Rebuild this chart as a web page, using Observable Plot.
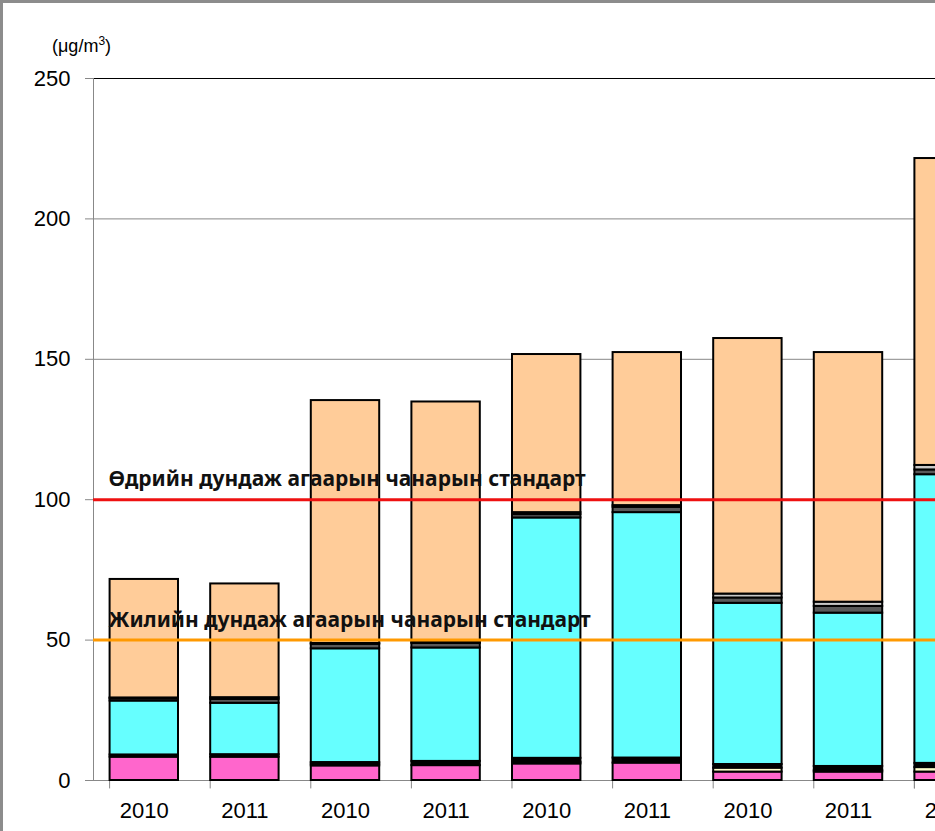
<!DOCTYPE html>
<html><head><meta charset="utf-8">
<script src="https://cdn.jsdelivr.net/npm/d3@7"></script>
<script src="https://cdn.jsdelivr.net/npm/@observablehq/plot@0.6"></script>
<style>
html,body{margin:0;padding:0;background:#fff;overflow:hidden;width:935px;height:831px;}
#wrap{position:relative;width:935px;height:831px;overflow:hidden;background:#fff;}
#chart svg{position:absolute;left:0;top:0;}
#unit{position:absolute;left:52px;top:37px;font:18px "Liberation Sans",Arial,sans-serif;line-height:1;color:#000;}
#unit sup{font-size:12px;vertical-align:7px;line-height:0;}
#bt{position:absolute;left:0;top:0;width:935px;height:3px;background:#8c8c8c;}
#bl{position:absolute;left:0;top:0;width:3px;height:831px;background:#8c8c8c;}
</style></head>
<body><div id="wrap"><div id="chart"></div><div id="unit">(μg/m<sup>3</sup>)</div><div id="bt"></div><div id="bl"></div></div>
<script>
// Category tick labels (years per bar)
const categories = ["2010","2011","2010","2011","2010","2011","2010","2011","2010"];
// Stack layers, bottom to top
const layerNames = ["s1","s2","s3","s4","s5","s6","s7"];
const layerColors = ["#FF66CC","#FFFFCC","#000000","#66FFFF","#595959","#C8C8C8","#FFCC99"];
// Series values (µg/m3), one per bar
const s1 = [8.3, 8.3, 5.2, 5.3, 5.9, 6.2, 3.0, 3.0, 3.0];
const s2 = [0, 0, 0.6, 0, 0.6, 0, 1.4, 0.5, 1.6];
const s3 = [0.8, 0.9, 0.6, 1.5, 1.4, 1.8, 1.3, 1.5, 1.5];
const s4 = [19.2, 18.3, 40.5, 40.4, 85.6, 87.4, 57.4, 54.6, 102.8];
const s5 = [0.8, 1.4, 1.6, 1.6, 1.2, 1.9, 1.9, 2.4, 1.7];
const s6 = [0.3, 0.6, 0.3, 0.4, 0.7, 0.6, 1.4, 1.5, 1.6];
const s7 = [42.2, 40.5, 86.5, 85.6, 56.3, 54.5, 91.0, 88.9, 109.3];
const yTicks = [0, 50, 100, 150, 200, 250];
const refValues = [100, 50];
const refLabels = ["Өдрийн дундаж агаарын чанарын стандарт", "Жилийн дундаж агаарын чанарын стандарт"];
const refColors = ["#EE1111", "#FF9900"];

const series = [s1, s2, s3, s4, s5, s6, s7];
const data = [];
categories.forEach((c, i) => {
  series.forEach((s, k) => {
    if (s[i] > 0) data.push({i, layer: layerNames[k], value: s[i]});
  });
});
const refs = refValues.map((v, k) => ({value: v, label: refLabels[k], color: refColors[k]}));
const idx = d3.range(categories.length);
const step = 100.6;

const chart = Plot.plot({
  width: 1010, height: 831,
  marginLeft: 93, marginTop: 78, marginBottom: 51, marginRight: 0,
  style: {fontFamily: "'Liberation Sans', Arial, sans-serif", background: "white", maxWidth: "none", overflow: "visible", color: "black"},
  x: {domain: idx, range: [93.5, 93.5 + step * categories.length], round: false, paddingInner: 0.32, paddingOuter: 0.16, axis: null},
  y: {domain: [0, 250], axis: null},
  color: {domain: layerNames, range: layerColors},
  marks: [
    Plot.gridY([50, 150, 200], {stroke: "#888888", strokeOpacity: 1, strokeWidth: 1}),
    Plot.ruleY([250], {stroke: "#000000", strokeWidth: 1}),
    Plot.ruleY([0], {stroke: "#888888", strokeWidth: 1}),
    Plot.frame({anchor: "left", stroke: "#888888", strokeWidth: 1}),
    Plot.axisY({ticks: yTicks, tickSize: 8, tickPadding: 15, stroke: "#888888", fill: "black", fontSize: 22, label: null}),
    Plot.ruleX(idx.concat([categories.length]), {x: i => Math.min(i, categories.length - 1), dx: i => i === categories.length ? step / 2 : -step / 2, y1: 0, y2: -3, stroke: "#888888"}),
    Plot.axisX({tickSize: 0, tickPadding: 22, tickFormat: i => categories[i], fontSize: 22, fill: "black", label: null}),
    Plot.barY(data, {x: "i", y: "value", fill: "layer", stroke: "black", strokeWidth: 2}),
    Plot.ruleY(refs, {y: "value", stroke: "color", strokeWidth: 3}),
    Plot.text(refs, {y: "value", text: "label", frameAnchor: "left", dx: 15, dy: -20, textAnchor: "start", fontWeight: "bold", fontSize: 21, fontFamily: "'Noto Sans', sans-serif", fill: "#111"})
  ]
});
document.getElementById("chart").appendChild(chart);
</script>
</body></html>
